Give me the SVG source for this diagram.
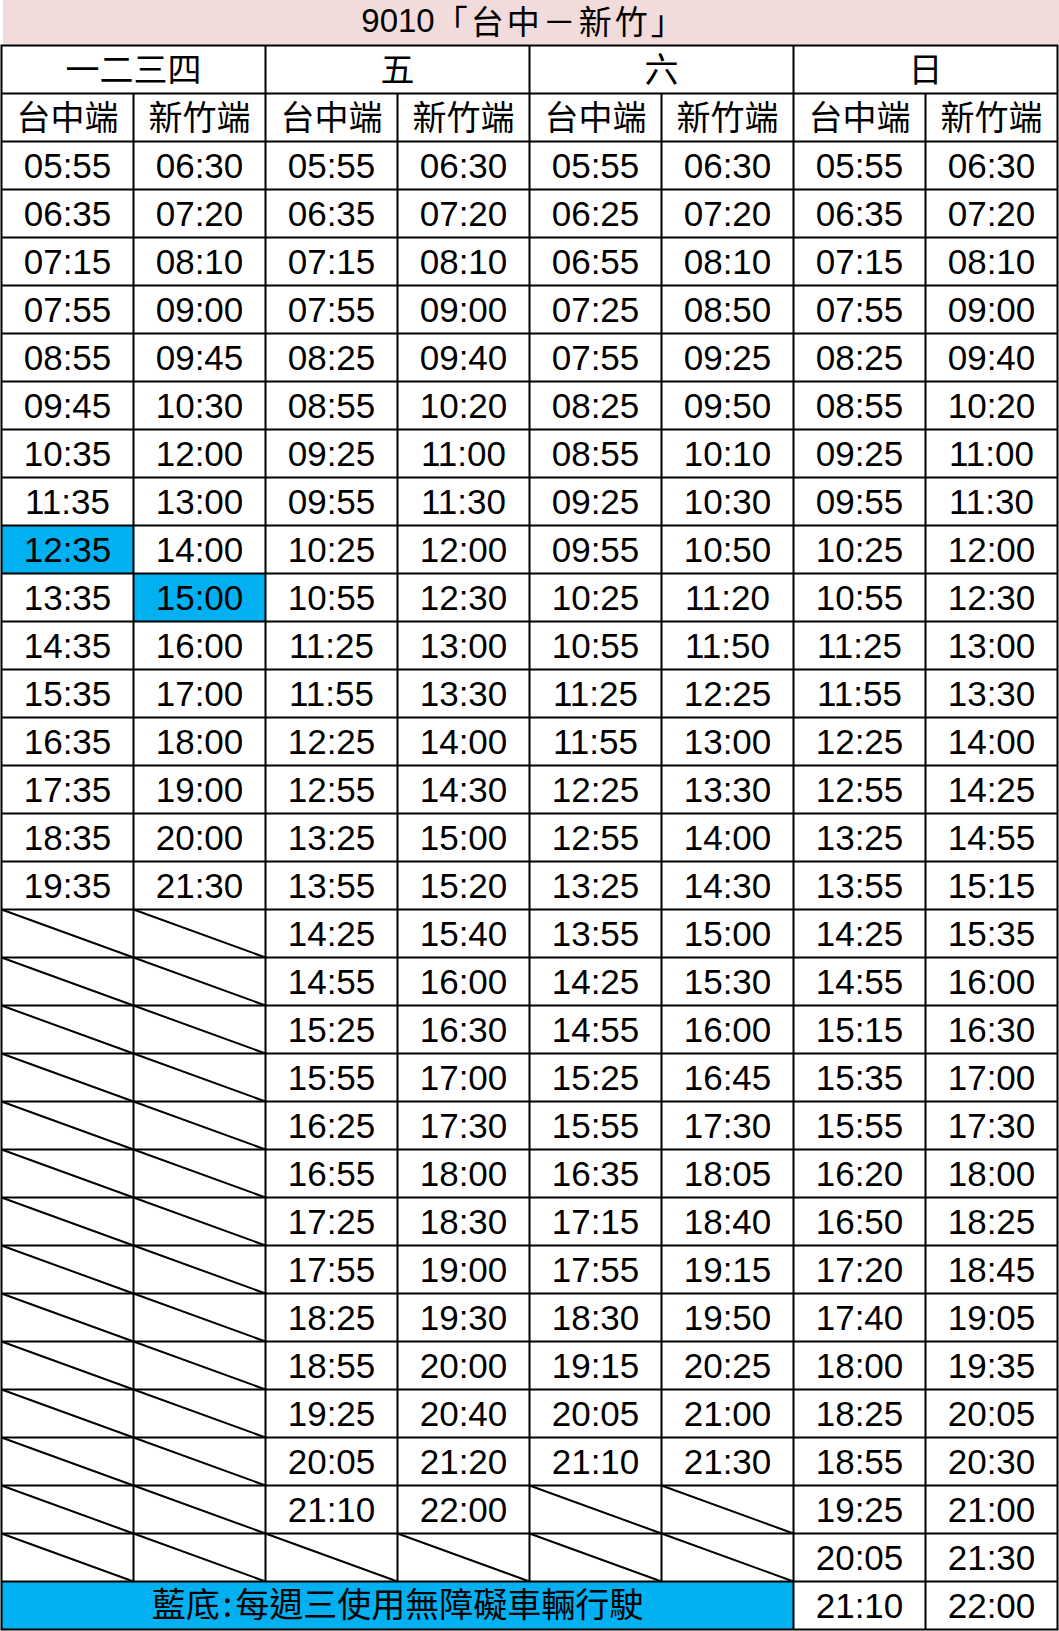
<svg xmlns="http://www.w3.org/2000/svg" width="1059" height="1631" viewBox="0 0 1059 1631">
<style>
.num{font-family:"Liberation Sans","Noto Sans CJK TC",sans-serif;font-size:35px;fill:#000;text-anchor:middle}
.cjk{font-family:"Noto Sans CJK TC","Noto Sans CJK SC",sans-serif;font-size:34px;fill:#000;text-anchor:middle}
.ln{stroke:#000;stroke-width:2;fill:none}
.blue{fill:#00B0F0}
</style>
<rect width="1059" height="1631" fill="#fff"/>
<g id="title">
<rect x="3" y="0" width="1056" height="44.5" fill="#F2DCDB"/>
<text x="524" y="32" text-anchor="middle"><tspan font-family="Liberation Sans" font-size="33">9010</tspan><tspan font-family="Noto Sans CJK TC, Noto Sans CJK SC, sans-serif" font-size="33" letter-spacing="3" dy="1.5">「台中－新竹」</tspan></text>
</g>
<g id="highlights">
<rect class="blue" x="1.5" y="525.5" width="132" height="48"/>
<rect class="blue" x="133.5" y="573.5" width="132" height="48"/>
<rect class="blue" x="1.5" y="1581.5" width="792" height="48"/>
</g>
<g id="grid">
<rect class="ln" x="1.5" y="45.5" width="1056" height="1584"/>
<path class="ln" d="M1.5 93.5H1057.5M1.5 141.5H1057.5M1.5 189.5H1057.5M1.5 237.5H1057.5M1.5 285.5H1057.5M1.5 333.5H1057.5M1.5 381.5H1057.5M1.5 429.5H1057.5M1.5 477.5H1057.5M1.5 525.5H1057.5M1.5 573.5H1057.5M1.5 621.5H1057.5M1.5 669.5H1057.5M1.5 717.5H1057.5M1.5 765.5H1057.5M1.5 813.5H1057.5M1.5 861.5H1057.5M1.5 909.5H1057.5M1.5 957.5H1057.5M1.5 1005.5H1057.5M1.5 1053.5H1057.5M1.5 1101.5H1057.5M1.5 1149.5H1057.5M1.5 1197.5H1057.5M1.5 1245.5H1057.5M1.5 1293.5H1057.5M1.5 1341.5H1057.5M1.5 1389.5H1057.5M1.5 1437.5H1057.5M1.5 1485.5H1057.5M1.5 1533.5H1057.5M1.5 1581.5H1057.5"/>
<path class="ln" d="M265.5 45.5V1581.5M529.5 45.5V1581.5M793.5 45.5V1629.5M133.5 93.5V1581.5M397.5 93.5V1581.5M661.5 93.5V1581.5M925.5 93.5V1629.5"/>
</g>
<g id="day-headers" class="cjk">
<text x="133.5" y="82">一二三四</text>
<text x="397.5" y="82">五</text>
<text x="661.5" y="82">六</text>
<text x="925.5" y="82">日</text>
</g>
<g id="sub-headers" class="cjk">
<text x="67.5" y="130">台中端</text>
<text x="199.5" y="130">新竹端</text>
<text x="331.5" y="130">台中端</text>
<text x="463.5" y="130">新竹端</text>
<text x="595.5" y="130">台中端</text>
<text x="727.5" y="130">新竹端</text>
<text x="859.5" y="130">台中端</text>
<text x="991.5" y="130">新竹端</text>
</g>
<g id="col-0" class="num" transform="translate(67.5,0)">
<text y="177.5">05:55</text><text y="225.5">06:35</text><text y="273.5">07:15</text><text y="321.5">07:55</text><text y="369.5">08:55</text><text y="417.5">09:45</text><text y="465.5">10:35</text><text y="513.5">11:35</text><text y="561.5">12:35</text><text y="609.5">13:35</text><text y="657.5">14:35</text><text y="705.5">15:35</text><text y="753.5">16:35</text><text y="801.5">17:35</text><text y="849.5">18:35</text><text y="897.5">19:35</text>
</g>
<g id="col-1" class="num" transform="translate(199.5,0)">
<text y="177.5">06:30</text><text y="225.5">07:20</text><text y="273.5">08:10</text><text y="321.5">09:00</text><text y="369.5">09:45</text><text y="417.5">10:30</text><text y="465.5">12:00</text><text y="513.5">13:00</text><text y="561.5">14:00</text><text y="609.5">15:00</text><text y="657.5">16:00</text><text y="705.5">17:00</text><text y="753.5">18:00</text><text y="801.5">19:00</text><text y="849.5">20:00</text><text y="897.5">21:30</text>
</g>
<g id="col-2" class="num" transform="translate(331.5,0)">
<text y="177.5">05:55</text><text y="225.5">06:35</text><text y="273.5">07:15</text><text y="321.5">07:55</text><text y="369.5">08:25</text><text y="417.5">08:55</text><text y="465.5">09:25</text><text y="513.5">09:55</text><text y="561.5">10:25</text><text y="609.5">10:55</text><text y="657.5">11:25</text><text y="705.5">11:55</text><text y="753.5">12:25</text><text y="801.5">12:55</text><text y="849.5">13:25</text><text y="897.5">13:55</text><text y="945.5">14:25</text><text y="993.5">14:55</text><text y="1041.5">15:25</text><text y="1089.5">15:55</text><text y="1137.5">16:25</text><text y="1185.5">16:55</text><text y="1233.5">17:25</text><text y="1281.5">17:55</text><text y="1329.5">18:25</text><text y="1377.5">18:55</text><text y="1425.5">19:25</text><text y="1473.5">20:05</text><text y="1521.5">21:10</text>
</g>
<g id="col-3" class="num" transform="translate(463.5,0)">
<text y="177.5">06:30</text><text y="225.5">07:20</text><text y="273.5">08:10</text><text y="321.5">09:00</text><text y="369.5">09:40</text><text y="417.5">10:20</text><text y="465.5">11:00</text><text y="513.5">11:30</text><text y="561.5">12:00</text><text y="609.5">12:30</text><text y="657.5">13:00</text><text y="705.5">13:30</text><text y="753.5">14:00</text><text y="801.5">14:30</text><text y="849.5">15:00</text><text y="897.5">15:20</text><text y="945.5">15:40</text><text y="993.5">16:00</text><text y="1041.5">16:30</text><text y="1089.5">17:00</text><text y="1137.5">17:30</text><text y="1185.5">18:00</text><text y="1233.5">18:30</text><text y="1281.5">19:00</text><text y="1329.5">19:30</text><text y="1377.5">20:00</text><text y="1425.5">20:40</text><text y="1473.5">21:20</text><text y="1521.5">22:00</text>
</g>
<g id="col-4" class="num" transform="translate(595.5,0)">
<text y="177.5">05:55</text><text y="225.5">06:25</text><text y="273.5">06:55</text><text y="321.5">07:25</text><text y="369.5">07:55</text><text y="417.5">08:25</text><text y="465.5">08:55</text><text y="513.5">09:25</text><text y="561.5">09:55</text><text y="609.5">10:25</text><text y="657.5">10:55</text><text y="705.5">11:25</text><text y="753.5">11:55</text><text y="801.5">12:25</text><text y="849.5">12:55</text><text y="897.5">13:25</text><text y="945.5">13:55</text><text y="993.5">14:25</text><text y="1041.5">14:55</text><text y="1089.5">15:25</text><text y="1137.5">15:55</text><text y="1185.5">16:35</text><text y="1233.5">17:15</text><text y="1281.5">17:55</text><text y="1329.5">18:30</text><text y="1377.5">19:15</text><text y="1425.5">20:05</text><text y="1473.5">21:10</text>
</g>
<g id="col-5" class="num" transform="translate(727.5,0)">
<text y="177.5">06:30</text><text y="225.5">07:20</text><text y="273.5">08:10</text><text y="321.5">08:50</text><text y="369.5">09:25</text><text y="417.5">09:50</text><text y="465.5">10:10</text><text y="513.5">10:30</text><text y="561.5">10:50</text><text y="609.5">11:20</text><text y="657.5">11:50</text><text y="705.5">12:25</text><text y="753.5">13:00</text><text y="801.5">13:30</text><text y="849.5">14:00</text><text y="897.5">14:30</text><text y="945.5">15:00</text><text y="993.5">15:30</text><text y="1041.5">16:00</text><text y="1089.5">16:45</text><text y="1137.5">17:30</text><text y="1185.5">18:05</text><text y="1233.5">18:40</text><text y="1281.5">19:15</text><text y="1329.5">19:50</text><text y="1377.5">20:25</text><text y="1425.5">21:00</text><text y="1473.5">21:30</text>
</g>
<g id="col-6" class="num" transform="translate(859.5,0)">
<text y="177.5">05:55</text><text y="225.5">06:35</text><text y="273.5">07:15</text><text y="321.5">07:55</text><text y="369.5">08:25</text><text y="417.5">08:55</text><text y="465.5">09:25</text><text y="513.5">09:55</text><text y="561.5">10:25</text><text y="609.5">10:55</text><text y="657.5">11:25</text><text y="705.5">11:55</text><text y="753.5">12:25</text><text y="801.5">12:55</text><text y="849.5">13:25</text><text y="897.5">13:55</text><text y="945.5">14:25</text><text y="993.5">14:55</text><text y="1041.5">15:15</text><text y="1089.5">15:35</text><text y="1137.5">15:55</text><text y="1185.5">16:20</text><text y="1233.5">16:50</text><text y="1281.5">17:20</text><text y="1329.5">17:40</text><text y="1377.5">18:00</text><text y="1425.5">18:25</text><text y="1473.5">18:55</text><text y="1521.5">19:25</text><text y="1569.5">20:05</text><text y="1617.5">21:10</text>
</g>
<g id="col-7" class="num" transform="translate(991.5,0)">
<text y="177.5">06:30</text><text y="225.5">07:20</text><text y="273.5">08:10</text><text y="321.5">09:00</text><text y="369.5">09:40</text><text y="417.5">10:20</text><text y="465.5">11:00</text><text y="513.5">11:30</text><text y="561.5">12:00</text><text y="609.5">12:30</text><text y="657.5">13:00</text><text y="705.5">13:30</text><text y="753.5">14:00</text><text y="801.5">14:25</text><text y="849.5">14:55</text><text y="897.5">15:15</text><text y="945.5">15:35</text><text y="993.5">16:00</text><text y="1041.5">16:30</text><text y="1089.5">17:00</text><text y="1137.5">17:30</text><text y="1185.5">18:00</text><text y="1233.5">18:25</text><text y="1281.5">18:45</text><text y="1329.5">19:05</text><text y="1377.5">19:35</text><text y="1425.5">20:05</text><text y="1473.5">20:30</text><text y="1521.5">21:00</text><text y="1569.5">21:30</text><text y="1617.5">22:00</text>
</g>
<g id="diagonals" class="ln">
<path d="M1.5 909.5L133.5 957.5M1.5 957.5L133.5 1005.5M1.5 1005.5L133.5 1053.5M1.5 1053.5L133.5 1101.5M1.5 1101.5L133.5 1149.5M1.5 1149.5L133.5 1197.5M1.5 1197.5L133.5 1245.5M1.5 1245.5L133.5 1293.5M1.5 1293.5L133.5 1341.5M1.5 1341.5L133.5 1389.5M1.5 1389.5L133.5 1437.5M1.5 1437.5L133.5 1485.5M1.5 1485.5L133.5 1533.5M1.5 1533.5L133.5 1581.5"/>
<path d="M133.5 909.5L265.5 957.5M133.5 957.5L265.5 1005.5M133.5 1005.5L265.5 1053.5M133.5 1053.5L265.5 1101.5M133.5 1101.5L265.5 1149.5M133.5 1149.5L265.5 1197.5M133.5 1197.5L265.5 1245.5M133.5 1245.5L265.5 1293.5M133.5 1293.5L265.5 1341.5M133.5 1341.5L265.5 1389.5M133.5 1389.5L265.5 1437.5M133.5 1437.5L265.5 1485.5M133.5 1485.5L265.5 1533.5M133.5 1533.5L265.5 1581.5"/>
<path d="M265.5 1533.5L397.5 1581.5M397.5 1533.5L529.5 1581.5"/>
<path d="M529.5 1485.5L661.5 1533.5M661.5 1485.5L793.5 1533.5M529.5 1533.5L661.5 1581.5M661.5 1533.5L793.5 1581.5"/>
</g>
<g id="footer">
<text class="cjk" x="397.5" y="1617" font-size="35">藍底<tspan dx="3">:</tspan><tspan dx="3">每週三使用無障礙車輛行駛</tspan></text>
</g>
</svg>
